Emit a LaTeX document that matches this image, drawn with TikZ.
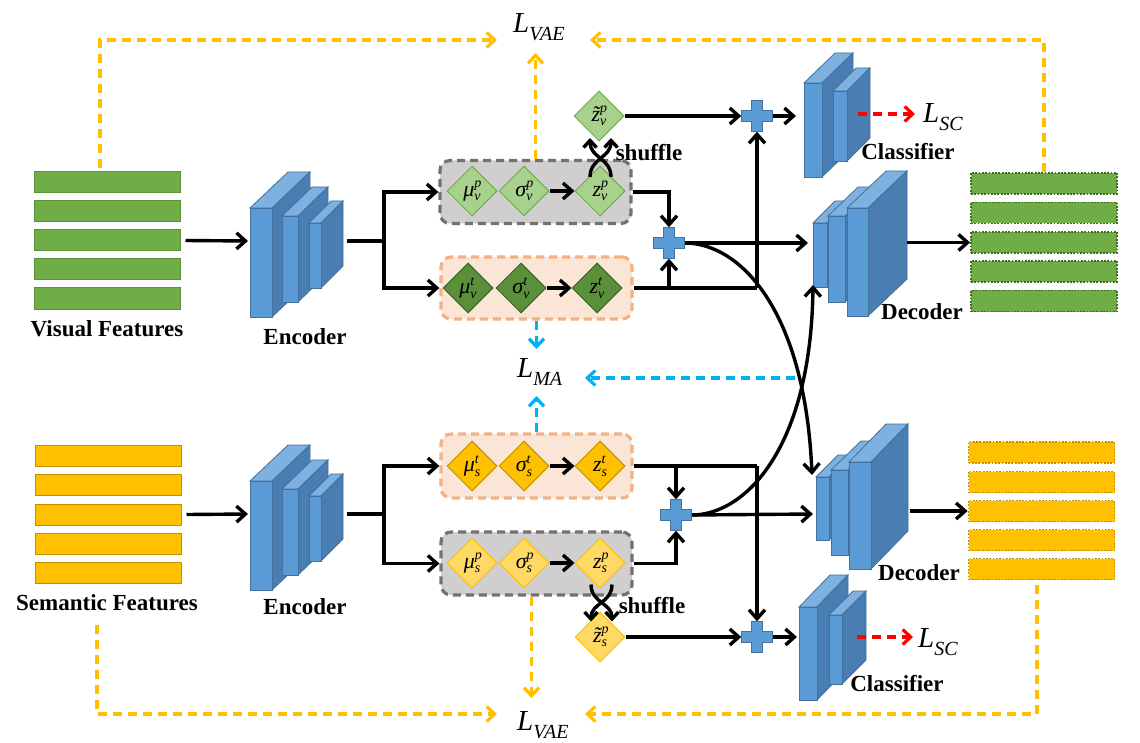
\documentclass[tikz,border=0pt]{standalone}
\usepackage{fontspec}
\setmainfont{Liberation Serif}
\usetikzlibrary{shapes.geometric,arrows.meta,calc}
\definecolor{vgreen}{HTML}{70AD47}
\definecolor{vgreenb}{HTML}{5A9236}
\definecolor{ogreenb}{HTML}{3F6B27}
\definecolor{sgold}{HTML}{FFC000}
\definecolor{sgoldb}{HTML}{C09000}
\definecolor{lgreen}{HTML}{A9D18E}
\definecolor{dgreen}{HTML}{5A9039}
\definecolor{dgreenb}{HTML}{3B6324}
\definecolor{lgold}{HTML}{FFD966}
\definecolor{grayfill}{HTML}{D0CECE}
\definecolor{grayline}{HTML}{767171}
\definecolor{peach}{HTML}{FBE5D6}
\definecolor{peachline}{HTML}{F4B183}
\definecolor{bfront}{HTML}{5B9BD5}
\definecolor{btop}{HTML}{7EB0E0}
\definecolor{bside}{HTML}{4A7EB2}
\definecolor{bline}{HTML}{41719C}
\definecolor{maBlue}{HTML}{00B0F0}

\newcommand\cnnslab[6]{%
  \filldraw[slabtop] (#1,#2) -- ++(#5,-#6) -- ++(#3,0) -- ++(-#5,#6) -- cycle;
  \filldraw[slabside] (#1+#3,#2) -- ++(#5,-#6) -- ++(0,#4) -- ++(-#5,#6) -- cycle;
  \filldraw[slabfront] (#1,#2) rectangle ++(#3,#4);}
\newcommand\plusshape[1]{%
  \filldraw[plusst] ($(#1.center)+(-5.5,-15.5)$) -- ++(11,0) -- ++(0,10) -- ++(10,0) -- ++(0,11) -- ++(-10,0) -- ++(0,10) -- ++(-11,0) -- ++(0,-10) -- ++(-10,0) -- ++(0,-11) -- ++(10,0) -- cycle;}
\newcommand\dsym[3]{{\itshape #1}{\fontsize{14}{14}\selectfont\itshape\makebox[0pt][l]{\raisebox{8.5pt}{#3}}\raisebox{-4.5pt}{#2}}}
\newcommand\lossL[1]{{\fontsize{29}{29}\selectfont\itshape L}{\fontsize{20}{20}\selectfont\itshape\raisebox{-8pt}{#1}}}

\begin{document}
\begin{tikzpicture}[x=1pt,y=-1pt,
  conn/.style={line width=3.4pt,draw=black},
  arr/.style={conn,-{Straight Barb[length=9pt,width=16pt]}},
  sarr/.style={conn,-{Straight Barb[length=7pt,width=13pt]}},
  lossarr/.style={line width=3.2pt,dash pattern=on 9pt off 6pt,-{Straight Barb[length=8pt,width=15pt]}},
  vae/.style={lossarr,draw=sgold},
  ma/.style={lossarr,draw=maBlue},
  sc/.style={lossarr,draw=red},
  vbar/.style={draw=vgreenb,fill=vgreen,line width=1pt,minimum width=146,minimum height=21,inner sep=0},
  sbar/.style={draw=sgoldb,fill=sgold,line width=1pt,minimum width=146,minimum height=21,inner sep=0},
  ovbar/.style={vbar,draw=ogreenb,line width=1.8pt,dash pattern=on 1.8pt off 1.5pt},
  osbar/.style={sbar,line width=1.8pt,dash pattern=on 1.8pt off 1.5pt},
  lbl/.style={font=\fontsize{23}{26}\selectfont\bfseries,inner sep=0},
  dia/.style={diamond,minimum width=50,minimum height=50,inner sep=0,line width=1pt,font=\fontsize{22}{22}\selectfont},
  dlg/.style={dia,fill=lgreen,draw=vgreen},
  ddg/.style={dia,fill=dgreen,draw=dgreenb},
  dsg/.style={dia,fill=sgold,draw=sgoldb},
  dlo/.style={dia,fill=lgold,draw=sgold},
  graybox/.style={fill=grayfill,draw=grayline,line width=3.2pt,dash pattern=on 8pt off 5pt,rounded corners=10pt,minimum width=191,minimum height=63,inner sep=0},
  peachbox/.style={graybox,fill=peach,draw=peachline},
  plusn/.style={minimum size=31,inner sep=0},
  plusst/.style={fill=bfront,draw=bline,line width=1pt},
  slabfront/.style={fill=bfront,draw=bline,line width=0.8pt},
  slabtop/.style={fill=btop,draw=bline,line width=0.8pt},
  slabside/.style={fill=bside,draw=bline,line width=0.8pt},
]
\fill[white] (0,0) rectangle (1140,743);
\useasboundingbox (0,0) rectangle (1140,743);

% ---------- feature bars ----------
\foreach \i/\y in {1/182.5,2/211.5,3/240.5,4/269.5,5/298.5}
  \node[vbar] (v\i) at (107,\y) {};
\foreach \i/\y in {1/456,2/485.3,3/514.5,4/543.7,5/573}
  \node[sbar] (s\i) at (108,\y) {};
\foreach \i/\y in {1/183.5,2/213,3/242.5,4/271.5,5/301}
  \node[ovbar] (ov\i) at (1044,\y) {};
\foreach \i/\y in {1/452.5,2/482,3/511,4/540,5/569}
  \node[osbar] (os\i) at (1041.5,\y) {};

% ---------- encoders ----------
\cnnslab{250}{208}{22}{109}{38}{36}
\cnnslab{282}{216}{16}{86}{30}{29}
\cnnslab{309}{223}{12}{65}{22}{22}
\cnnslab{250}{481}{22}{109}{38}{36}
\cnnslab{282}{489}{16}{86}{30}{29}
\cnnslab{309}{496}{12}{65}{22}{22}
% ---------- decoders ----------
\cnnslab{813}{223}{14}{64}{22}{22}
\cnnslab{828}{216}{17}{86}{30}{29}
\cnnslab{847}{208}{21}{108}{39}{37}
\cnnslab{816}{477}{13}{63}{22}{22}
\cnnslab{831}{470}{17}{85}{30}{29}
\cnnslab{849}{462}{22}{107}{37}{38}
% ---------- classifiers ----------
\cnnslab{804}{83}{18}{94}{31}{30}
\cnnslab{833}{91}{14}{70}{23}{23}
\cnnslab{799}{607}{18}{93}{31}{32}
\cnnslab{829}{615}{13}{69}{24}{24}

\coordinate (encVin) at (248,241);
\coordinate (encVout) at (347,241);
\coordinate (splitV) at (384,241);
\coordinate (encSin) at (248,514);
\coordinate (encSout) at (347,514);
\coordinate (splitS) at (384,514);
\coordinate (decVin) at (808,243);
\coordinate (decVout) at (907,242.5);
\coordinate (decVlow) at (813,285);
\coordinate (decSin) at (813,514);
\coordinate (decSout) at (910,511);
\coordinate (decStop) at (812,475);
\coordinate (clsVin) at (796,116);
\coordinate (clsSin) at (797,637);

% ---------- boxes ----------
\node[graybox] (bvp) at (535.5,192) {};
\node[peachbox,minimum height=62] (bvt) at (536.5,288) {};
\node[peachbox,minimum height=64] (bst) at (536.5,466) {};
\node[graybox] (bsp) at (536.5,563.5) {};

% ---------- diamonds ----------
\node[dlg] (muvp) at (472,191) {\dsym{μ}{v}{p}};
\node[dlg] (sgvp) at (524,191) {\dsym{σ}{v}{p}};
\node[dlg] (zvp) at (600,191) {\dsym{z}{v}{p}};
\node[dlg] (ztv) at (599,116) {\dsym{z̃}{v}{p}};
\node[ddg] (muvt) at (468,288) {\dsym{μ}{v}{t}};
\node[ddg] (sgvt) at (521,288) {\dsym{σ}{v}{t}};
\node[ddg] (zvt) at (597,288) {\dsym{z}{v}{t}};
\node[dsg] (must) at (472,466) {\dsym{μ}{s}{t}};
\node[dsg] (sgst) at (524,466) {\dsym{σ}{s}{t}};
\node[dsg] (zst) at (600,466) {\dsym{z}{s}{t}};
\node[dlo] (musp) at (472,563) {\dsym{μ}{s}{p}};
\node[dlo] (sgsp) at (524,563) {\dsym{σ}{s}{p}};
\node[dlo] (zsp) at (600,563) {\dsym{z}{s}{p}};
\node[dlo] (zts) at (600,637) {\dsym{z̃}{s}{p}};

% ---------- plus nodes ----------
\node[plusn] (p1) at (757,116) {};
\node[plusn] (p2) at (669,243) {};
\node[plusn] (p3) at (676,515) {};
\node[plusn] (p4) at (757,637) {};

% ---------- connectors (visual) ----------
\draw[arr] ([xshift=5]v3.east) -- (encVin);
\draw[conn] (encVout) -- (splitV);
\draw[arr] (splitV) |- (bvp.west);
\draw[arr] (splitV) |- (bvt.west);
\draw[arr] (sgvp) -- (zvp);
\draw[arr] (sgvt) -- (zvt);
\draw[arr] (bvp.east) -| (p2.north);
\coordinate (jV) at (757,288);
\draw[conn] (bvt.east) -- (jV);
\draw[arr] (jV) -- (p1.south);
\draw[arr] (p2.south |- bvt.east) -- (p2.south);
\draw[arr] (ztv) -- (p1.west);
\draw[arr] (p1.east) -- (clsVin);
\draw[arr] (p2.east) -- (decVin);
\draw[arr] (p2.east) .. controls (740,243) and (805,310) .. (decStop);
\draw[arr] (decVout) -- (decVout -| ov3.west);
\draw[sarr] ($(zvp.center)+(-10,-14)$) .. controls ($(zvp.center)+(-10,-33)$) and ($(zvp.center)+(11,-33)$) .. ($(zvp.center)+(11,-53)$);
\draw[sarr] ($(zvp.center)+(11,-14)$) .. controls ($(zvp.center)+(11,-33)$) and ($(zvp.center)+(-10,-33)$) .. ($(zvp.center)+(-10,-53)$);

% ---------- connectors (semantic) ----------
\draw[arr] ([xshift=5]s3.east) -- (encSin);
\draw[conn] (encSout) -- (splitS);
\draw[arr] (splitS) |- (bst.west);
\draw[arr] (splitS) |- (bsp.west);
\draw[arr] (sgst) -- (zst);
\draw[arr] (sgsp) -- (zsp);
\coordinate (jS) at (757,466);
\draw[conn] (bst.east) -- (jS);
\draw[arr] (jS) -- (p4.north);
\draw[arr] (p3.north |- bst.east) -- (p3.north);
\draw[arr] (bsp.east) -| (p3.south);
\draw[arr] (zts) -- (p4.west);
\draw[arr] (p4.east) -- (clsSin);
\draw[arr] (p3.east) -- (decSin);
\draw[arr] (p3.east) .. controls (746,515) and (811,447) .. (decVlow);
\draw[arr] (decSout) -- (decSout -| os3.west);
\draw[sarr] ($(zsp.center)+(-9,21.5)$) .. controls ($(zsp.center)+(-9,40)$) and ($(zsp.center)+(12,40)$) .. ($(zsp.center)+(12,58.5)$);
\draw[sarr] ($(zsp.center)+(12,21.5)$) .. controls ($(zsp.center)+(12,40)$) and ($(zsp.center)+(-9,40)$) .. ($(zsp.center)+(-9,58.5)$);

\plusshape{p1}
\plusshape{p2}
\plusshape{p3}
\plusshape{p4}

% ---------- losses ----------
\node[anchor=base west,inner sep=0] (lvaeT) at (513,33) {\lossL{VAE}};
\node[anchor=base west,inner sep=0] (lma) at (517,377) {\lossL{MA}};
\node[anchor=base west,inner sep=0] (lvaeB) at (517,730) {\lossL{VAE}};
\node[anchor=base west,inner sep=0] (lscT) at (923,123) {\lossL{SC}};
\node[anchor=base west,inner sep=0] (lscB) at (918,647) {\lossL{SC}};

\coordinate (vaeTstart) at (100,168);
\coordinate (vaeTL) at (497,40);
\coordinate (vaeTD) at (535.5,53);
\coordinate (vaeTR) at (590,40);
\coordinate (maT) at (536.5,349);
\coordinate (maB) at (536.5,396);
\coordinate (maR0) at (795,378);
\coordinate (maR) at (585,378);
\coordinate (vaeBstart) at (97,625);
\coordinate (vaeBL) at (497,714);
\coordinate (vaeBD) at (531.5,698);
\coordinate (vaeBRstart) at (1037,585);
\coordinate (vaeBR) at (585,714);
\coordinate (scT0) at (858,114);
\coordinate (scT1) at (915,114);
\coordinate (scB0) at (857,637);
\coordinate (scB1) at (913,637);

\draw[vae] (vaeTstart) |- (vaeTL);
\draw[vae] (bvp.north) -- (vaeTD);
\draw[vae] (ov1.north) |- (vaeTR);
\draw[ma] (bvt.south) -- (maT);
\draw[ma] (bst.north) -- (maB);
\draw[ma] (maR0) -- (maR);
\draw[vae] (vaeBstart) |- (vaeBL);
\draw[vae] ([xshift=-5]bsp.south) -- (vaeBD);
\draw[vae] (vaeBRstart) |- (vaeBR);
\draw[sc] (scT0) -- (scT1);
\draw[sc] (scB0) -- (scB1);

% ---------- labels ----------
\node[lbl] (vfl) at (107,329) {Visual Features};
\node[lbl] (sfl) at (107,603) {Semantic Features};
\node[lbl] (encl1) at (305,337) {Encoder};
\node[lbl] (encl2) at (305,607) {Encoder};
\node[lbl] (decl1) at (922,312) {Decoder};
\node[lbl] (decl2) at (919,573) {Decoder};
\node[lbl] (clsl1) at (908,152) {Classifier};
\node[lbl] (clsl2) at (897,684) {Classifier};
\node[lbl] (shf1) at (649,153) {shuffle};
\node[lbl] (shf2) at (652,606) {shuffle};
\end{tikzpicture}
\end{document}
